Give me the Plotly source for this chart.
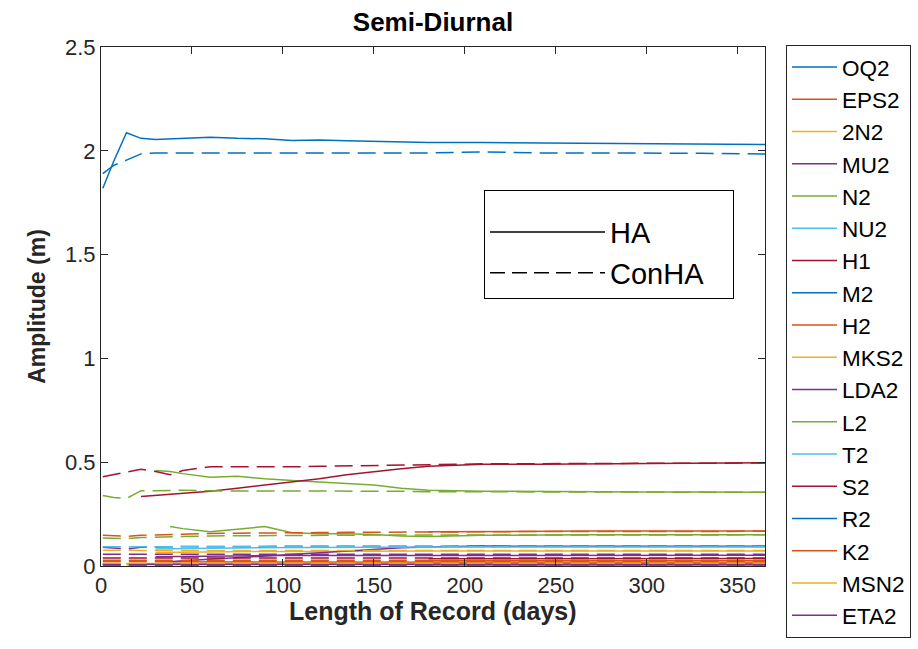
import plotly.graph_objects as go

N = None
days = [1, 7, 14, 22, 30, 38, 45, 60, 75, 90, 105, 120, 135, 150, 165, 180, 210, 240, 270, 300, 330, 365]

names = ["OQ2", "EPS2", "2N2", "MU2", "N2", "NU2", "H1", "M2", "H2",
         "MKS2", "LDA2", "L2", "T2", "S2", "R2", "K2", "MSN2", "ETA2"]

# HA (solid) and ConHA (dashed) amplitudes, metres
OQ2_HA   = [N, N, 0.010, 0.010, 0.010, 0.010, 0.010, 0.010, 0.010, 0.010, 0.010, 0.010, 0.010, 0.010, 0.010, 0.010, 0.010, 0.010, 0.010, 0.010, 0.010, 0.010]
OQ2_CON  = [0.009, 0.009, 0.009, 0.009, 0.009, 0.009, 0.009, 0.009, 0.009, 0.009, 0.009, 0.009, 0.009, 0.009, 0.009, 0.009, 0.009, 0.009, 0.009, 0.009, 0.009, 0.009]
EPS2_HA  = [N, N, N, N, 0.020, 0.020, 0.019, 0.019, 0.018, 0.018, 0.018, 0.018, 0.017, 0.017, 0.017, 0.017, 0.017, 0.017, 0.017, 0.017, 0.017, 0.017]
EPS2_CON = [0.022, 0.022, 0.022, 0.022, 0.022, 0.022, 0.022, 0.022, 0.022, 0.022, 0.022, 0.022, 0.022, 0.022, 0.022, 0.022, 0.022, 0.022, 0.022, 0.022, 0.022, 0.022]
N2N2_HA  = [N, N, N, N, 0.065, 0.066, 0.067, 0.068, 0.069, 0.070, 0.070, 0.071, 0.071, 0.072, 0.072, 0.072, 0.072, 0.072, 0.072, 0.072, 0.072, 0.072]
N2N2_CON = [0.076, 0.075, 0.075, 0.075, 0.075, 0.075, 0.075, 0.075, 0.075, 0.075, 0.075, 0.075, 0.075, 0.075, 0.075, 0.075, 0.075, 0.075, 0.075, 0.075, 0.075, 0.075]
MU2_HA   = [N, N, N, N, N, 0.020, 0.025, 0.032, 0.040, 0.050, 0.058, 0.066, 0.075, 0.082, 0.088, 0.092, 0.096, 0.095, 0.095, 0.095, 0.095, 0.095]
MU2_CON  = [0.090, 0.086, 0.082, 0.090, 0.092, 0.093, 0.094, 0.094, 0.095, 0.095, 0.095, 0.095, 0.095, 0.095, 0.095, 0.095, 0.095, 0.095, 0.095, 0.095, 0.095, 0.095]
N2_HA    = [N, N, N, N, 0.460, 0.455, 0.445, 0.427, 0.432, 0.420, 0.412, 0.405, 0.398, 0.390, 0.375, 0.365, 0.360, 0.360, 0.358, 0.357, 0.356, 0.355]
N2_CON   = [0.340, 0.330, 0.325, 0.363, 0.362, 0.364, 0.365, 0.362, 0.362, 0.361, 0.361, 0.360, 0.360, 0.360, 0.360, 0.358, 0.358, 0.357, 0.356, 0.356, 0.355, 0.355]
NU2_HA   = [N, N, N, N, 0.082, 0.084, 0.085, 0.086, 0.087, 0.088, 0.089, 0.090, 0.090, 0.091, 0.091, 0.092, 0.092, 0.092, 0.092, 0.092, 0.092, 0.092]
NU2_CON  = [0.093, 0.093, 0.093, 0.093, 0.093, 0.093, 0.093, 0.093, 0.093, 0.093, 0.093, 0.093, 0.093, 0.093, 0.093, 0.093, 0.093, 0.093, 0.093, 0.093, 0.093, 0.093]
H1_HA    = [N, N, N, N, N, N, N, N, N, N, N, N, N, N, N, 0.035, 0.035, 0.036, 0.036, 0.036, 0.036, 0.036]
H1_CON   = [0.038, 0.038, 0.038, 0.038, 0.038, 0.038, 0.038, 0.038, 0.038, 0.038, 0.038, 0.038, 0.038, 0.038, 0.038, 0.038, 0.038, 0.038, 0.038, 0.038, 0.038, 0.038]
M2_HA    = [1.820, 1.950, 2.087, 2.060, 2.055, 2.057, 2.058, 2.065, 2.060, 2.058, 2.050, 2.052, 2.048, 2.045, 2.043, 2.040, 2.040, 2.038, 2.036, 2.035, 2.035, 2.030]
M2_CON   = [1.890, 1.930, 1.955, 1.985, 1.990, 1.990, 1.990, 1.990, 1.990, 1.990, 1.990, 1.990, 1.990, 1.990, 1.990, 1.990, 1.995, 1.990, 1.990, 1.990, 1.988, 1.985]
H2_HA    = [N, N, N, N, N, N, N, N, N, N, N, N, N, N, N, 0.025, 0.025, 0.025, 0.025, 0.025, 0.025, 0.025]
H2_CON   = [0.028, 0.028, 0.028, 0.028, 0.028, 0.028, 0.028, 0.028, 0.028, 0.028, 0.028, 0.028, 0.028, 0.028, 0.028, 0.028, 0.028, 0.028, 0.028, 0.028, 0.028, 0.028]
MKS2_HA  = [N, N, 0.012, 0.012, 0.012, 0.012, 0.012, 0.012, 0.012, 0.012, 0.012, 0.012, 0.012, 0.012, 0.012, 0.012, 0.012, 0.012, 0.012, 0.012, 0.012, 0.012]
MKS2_CON = [0.013, 0.013, 0.013, 0.013, 0.013, 0.013, 0.013, 0.013, 0.013, 0.013, 0.013, 0.013, 0.013, 0.013, 0.013, 0.013, 0.013, 0.013, 0.013, 0.013, 0.013, 0.013]
LDA2_HA  = [N, N, N, N, 0.045, 0.046, 0.047, 0.048, 0.049, 0.050, 0.050, 0.050, 0.050, 0.051, 0.051, 0.052, 0.052, 0.052, 0.052, 0.052, 0.052, 0.052]
LDA2_CON = [0.056, 0.056, 0.056, 0.056, 0.056, 0.056, 0.056, 0.056, 0.056, 0.056, 0.056, 0.056, 0.056, 0.056, 0.056, 0.056, 0.056, 0.056, 0.056, 0.056, 0.056, 0.056]
L2_HA    = [N, N, N, N, N, 0.190, 0.180, 0.165, 0.178, 0.190, 0.160, 0.155, 0.155, 0.152, 0.145, 0.142, 0.148, 0.150, 0.150, 0.150, 0.150, 0.150]
L2_CON   = [0.135, 0.133, 0.132, 0.137, 0.140, 0.140, 0.142, 0.145, 0.145, 0.147, 0.148, 0.148, 0.148, 0.149, 0.149, 0.150, 0.150, 0.150, 0.150, 0.150, 0.150, 0.150]
T2_HA    = [N, N, N, N, N, N, N, N, N, N, N, N, N, N, N, 0.010, 0.010, 0.010, 0.010, 0.010, 0.010, 0.010]
T2_CON   = [0.011, 0.011, 0.011, 0.011, 0.011, 0.011, 0.011, 0.011, 0.011, 0.011, 0.011, 0.011, 0.011, 0.011, 0.011, 0.011, 0.011, 0.011, 0.011, 0.011, 0.011, 0.011]
S2_HA    = [N, N, N, 0.335, 0.340, 0.345, 0.350, 0.360, 0.375, 0.390, 0.405, 0.420, 0.440, 0.455, 0.468, 0.480, 0.490, 0.490, 0.492, 0.495, 0.495, 0.497]
S2_CON   = [0.430, 0.440, 0.455, 0.466, 0.455, 0.440, 0.460, 0.478, 0.478, 0.477, 0.478, 0.480, 0.482, 0.485, 0.488, 0.490, 0.492, 0.493, 0.494, 0.495, 0.495, 0.496]
R2_HA    = [N, N, N, N, N, N, N, N, N, N, N, N, N, N, N, 0.004, 0.004, 0.004, 0.004, 0.004, 0.004, 0.004]
R2_CON   = [0.004, 0.004, 0.004, 0.004, 0.004, 0.004, 0.004, 0.004, 0.004, 0.004, 0.004, 0.004, 0.004, 0.004, 0.004, 0.004, 0.004, 0.004, 0.004, 0.004, 0.004, 0.004]
K2_HA    = [N, N, N, N, N, N, N, N, N, N, N, N, N, N, N, 0.165, 0.167, 0.168, 0.168, 0.168, 0.168, 0.168]
K2_CON   = [0.148, 0.146, 0.143, 0.148, 0.150, 0.153, 0.155, 0.157, 0.158, 0.160, 0.160, 0.161, 0.162, 0.163, 0.163, 0.164, 0.165, 0.166, 0.166, 0.167, 0.167, 0.167]
MSN2_HA  = [N, N, 0.006, 0.006, 0.006, 0.006, 0.006, 0.006, 0.006, 0.006, 0.006, 0.006, 0.006, 0.006, 0.006, 0.006, 0.006, 0.006, 0.006, 0.006, 0.006, 0.006]
MSN2_CON = [0.007, 0.007, 0.007, 0.007, 0.007, 0.007, 0.007, 0.007, 0.007, 0.007, 0.007, 0.007, 0.007, 0.007, 0.007, 0.007, 0.007, 0.007, 0.007, 0.007, 0.007, 0.007]
ETA2_HA  = [N, N, N, 0.008, 0.008, 0.008, 0.008, 0.008, 0.008, 0.008, 0.008, 0.008, 0.008, 0.008, 0.008, 0.008, 0.008, 0.008, 0.008, 0.008, 0.008, 0.008]
ETA2_CON = [0.006, 0.006, 0.006, 0.006, 0.006, 0.006, 0.006, 0.006, 0.006, 0.006, 0.006, 0.006, 0.006, 0.006, 0.006, 0.006, 0.006, 0.006, 0.006, 0.006, 0.006, 0.006]

ha_series = [OQ2_HA, EPS2_HA, N2N2_HA, MU2_HA, N2_HA, NU2_HA, H1_HA, M2_HA, H2_HA,
             MKS2_HA, LDA2_HA, L2_HA, T2_HA, S2_HA, R2_HA, K2_HA, MSN2_HA, ETA2_HA]
con_series = [OQ2_CON, EPS2_CON, N2N2_CON, MU2_CON, N2_CON, NU2_CON, H1_CON, M2_CON, H2_CON,
              MKS2_CON, LDA2_CON, L2_CON, T2_CON, S2_CON, R2_CON, K2_CON, MSN2_CON, ETA2_CON]

palette = ["#0072BD", "#D95319", "#EDB120", "#7E2F8E", "#77AC30", "#4DBEEE", "#A2142F"]

x_ticks = [0, 50, 100, 150, 200, 250, 300, 350]
y_ticks = [0, 0.5, 1, 1.5, 2, 2.5]
y_tick_labels = ["0", "0.5", "1", "1.5", "2", "2.5"]

FONT = "Liberation Sans, Arial, Helvetica, sans-serif"
AX = "#262626"
LW = 1.5

fig = go.Figure()
for i, name in enumerate(names):
    c = palette[i % 7]
    fig.add_trace(go.Scatter(x=days, y=ha_series[i], mode="lines", name=name,
                             line=dict(color=c, width=LW), legend="legend"))
for i, name in enumerate(names):
    c = palette[i % 7]
    fig.add_trace(go.Scatter(x=days, y=con_series[i], mode="lines", name=name + " ConHA",
                             line=dict(color=c, width=LW, dash="18px,8px"),
                             showlegend=False))

fig.add_trace(go.Scatter(x=[None], y=[None], mode="lines", name="HA",
                         line=dict(color="black", width=LW), legend="legend2"))
fig.add_trace(go.Scatter(x=[None], y=[None], mode="lines", name="ConHA\u00a0\u00a0\u00a0",
                         line=dict(color="black", width=LW, dash="15px,7px"), legend="legend2"))

axis_common = dict(showgrid=False, zeroline=False, showline=True, linecolor=AX, linewidth=1,
                   ticks="inside", ticklen=7, tickcolor=AX, mirror="ticks",
                   tickfont=dict(family=FONT, size=22, color=AX))

fig.update_layout(
    width=918, height=649, autosize=False,
    margin=dict(l=101, r=153, t=47, b=83, autoexpand=False),
    paper_bgcolor="white", plot_bgcolor="white",
    font=dict(family=FONT, color=AX),
    title=dict(text="<b>Semi-Diurnal</b>", x=0.5, xref="paper", xanchor="center",
               y=1 - 22 / 649, yref="container", yanchor="middle",
               font=dict(family=FONT, size=26, color="black")),
    xaxis=dict(range=[0, 365], tickvals=x_ticks, **axis_common),
    yaxis=dict(range=[0, 2.5], tickvals=y_ticks, ticktext=y_tick_labels, **axis_common,
               title=dict(text="<b>Amplitude (m)</b>", standoff=12,
                          font=dict(family=FONT, size=23, color=AX))),
    annotations=[dict(text="<b>Length of Record (days)</b>", xref="paper", yref="paper",
                      x=0.5, y=-(611 - 566) / 519, xanchor="center", yanchor="middle",
                      showarrow=False, font=dict(family=FONT, size=25, color=AX))],
    legend=dict(x=(786 - 101) / 664, y=1.004, xanchor="left", yanchor="top",
                bordercolor=AX, borderwidth=1, bgcolor="white",
                font=dict(family=FONT, size=22.5, color="black"),
                itemwidth=45, tracegroupgap=0, maxheight=640),
    legend2=dict(x=(484 - 101) / 664, y=(566 - 190) / 519, xanchor="left", yanchor="top",
                 bordercolor="black", borderwidth=1, bgcolor="white",
                 title=dict(text=" ", font=dict(size=12)),
                 font=dict(family=FONT, size=29, color="black"),
                 itemwidth=115),
    showlegend=True,
)

fig.write_html("out.html")
